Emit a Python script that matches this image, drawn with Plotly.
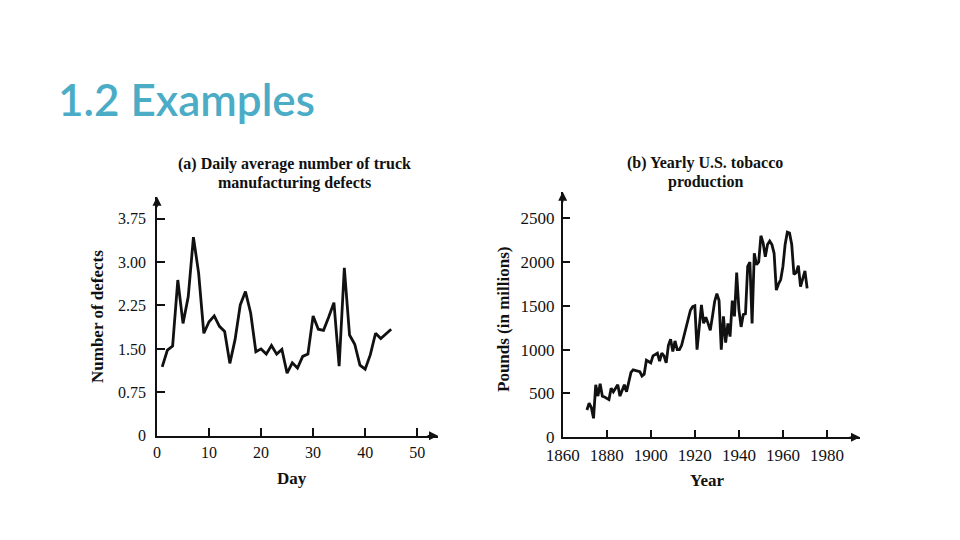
import plotly.graph_objects as go

# ---------------- data ----------------
days = list(range(1, 46))
defects = [1.19, 1.48, 1.55, 2.69, 1.94, 2.40, 3.43, 2.81, 1.77, 1.97,
           2.07, 1.89, 1.80, 1.25, 1.66, 2.26, 2.49, 2.12, 1.45, 1.50,
           1.41, 1.56, 1.41, 1.49, 1.08, 1.26, 1.17, 1.37, 1.41, 2.07,
           1.84, 1.82, 2.05, 2.30, 1.20, 2.90, 1.74, 1.58, 1.22, 1.15,
           1.40, 1.77, 1.68, 1.76, 1.84]

years = list(range(1871, 1972))
tobacco = [312, 390, 340, 217, 600, 470, 610, 470, 460, 440,
           430, 560, 520, 560, 600, 470, 540, 600, 520, 650,
           740, 770, 765, 760, 750, 700, 720, 880, 860, 850,
           930, 945, 960, 870, 960, 930, 850, 1050, 1120, 980,
           1100, 1000, 1000, 1050, 1150, 1250, 1350, 1450, 1490, 1500,
           1000, 1250, 1510, 1300, 1370, 1300, 1220, 1380, 1550, 1640,
           1560, 1000, 1380, 1080, 1300, 1150, 1560, 1380, 1880, 1460,
           1260, 1400, 1410, 1950, 2000, 1300, 2100, 1970, 2000, 2300,
           2220, 2060, 2200, 2240, 2200, 2100, 1680, 1750, 1800, 1950,
           2200, 2340, 2330, 2200, 1860, 1880, 1960, 1720, 1800, 1900,
           1700]

a_xticks = [0, 10, 20, 30, 40, 50]
a_yticks = [0, 0.75, 1.5, 2.25, 3.0, 3.75]
a_yticklabels = ["0", "0.75", "1.50", "2.25", "3.00", "3.75"]
b_xticks = [1860, 1880, 1900, 1920, 1940, 1960, 1980]
b_yticks = [0, 500, 1000, 1500, 2000, 2500]

W, H = 960, 540
OFF = 8  # page body margin offset
SERIF = "Liberation Serif"
INK = "#111111"

def px(x):
    return (x - OFF) / W

def py(y):
    return 1 - (y - OFF) / H

fig = go.Figure()
fig.add_trace(go.Scatter(x=days, y=defects, mode="lines",
                         line=dict(color=INK, width=2.8),
                         xaxis="x", yaxis="y", showlegend=False,
                         hoverinfo="skip"))
fig.add_trace(go.Scatter(x=years, y=tobacco, mode="lines",
                         line=dict(color=INK, width=2.8),
                         xaxis="x2", yaxis="y2", showlegend=False,
                         hoverinfo="skip"))

axis_common = dict(showgrid=False, zeroline=False, showline=True,
                   linecolor=INK, linewidth=1.5, ticks="inside",
                   ticklen=8, tickwidth=1.5, tickcolor=INK,
                   automargin=False,
                   tickfont=dict(family=SERIF, size=16, color=INK),
                   fixedrange=True)

a_xmax, a_ymax = 54, 4.13
b_xmax, b_ymax = 1995, 2803

fig.update_layout(
    template="none",
    width=W, height=H, margin=dict(l=0, r=0, t=0, b=0, pad=0),
    paper_bgcolor="white", plot_bgcolor="white",
    xaxis=dict(axis_common, domain=[px(157), px(438)], range=[0, a_xmax],
               tickvals=a_xticks, anchor="y", ticklabelstandoff=1),
    yaxis=dict(axis_common, domain=[py(435.7), py(196.7)], range=[0, a_ymax],
               tickvals=a_yticks, ticktext=a_yticklabels, anchor="x",
               ticklabelstandoff=6),
    xaxis2=dict(axis_common, domain=[px(562.7), px(860)], range=[1860, b_xmax],
                tickvals=b_xticks, anchor="y2", ticklabelstandoff=2,
                tickfont=dict(family=SERIF, size=17, color=INK)),
    yaxis2=dict(axis_common, domain=[py(437.3), py(191.7)], range=[0, b_ymax],
                tickvals=b_yticks, anchor="x2", ticklabelstandoff=3,
                tickfont=dict(family=SERIF, size=17, color=INK)),
)

ann = []
# slide title
ann.append(dict(text="1.2 Examples", xref="paper", yref="paper",
                x=px(56), y=py(99), xanchor="left", yanchor="middle",
                showarrow=False,
                font=dict(family="Lato", size=44, weight=600, color="#4BACC6")))

def txt(t, x, y, size=16, angle=0):
    return dict(text="<b>%s</b>" % t, xref="paper", yref="paper",
                x=px(x), y=py(y), xanchor="center", yanchor="middle",
                showarrow=False, textangle=angle,
                font=dict(family=SERIF, size=size, color=INK))

ann += [
    txt("(a) Daily average number of truck", 294, 164),
    txt("manufacturing defects", 294, 183),
    txt("Number of defects", 97, 317, 17, -90),
    txt("Day", 292, 478, 17),
    txt("(b) Yearly U.S. tobacco", 705, 163),
    txt("production", 705, 182),
    txt("Pounds (in millions)", 503, 319, 17, -90),
    txt("Year", 707, 480, 17),
]

# axis arrowheads
def arrow(xr, yr, x, y, axp, ayp):
    return dict(xref=xr, yref=yr, x=x, y=y, ax=axp, ay=ayp, text="",
                showarrow=True, arrowhead=2, arrowsize=1.2, arrowwidth=1.5,
                arrowcolor=INK)

ann += [
    arrow("x", "y", 0, a_ymax, 0, 12),
    arrow("x", "y", a_xmax, 0, -12, 0),
    arrow("x2", "y2", 1860, b_ymax, 0, 12),
    arrow("x2", "y2", b_xmax, 0, -12, 0),
]

fig.update_layout(annotations=ann)
fig.write_html("out.html")
